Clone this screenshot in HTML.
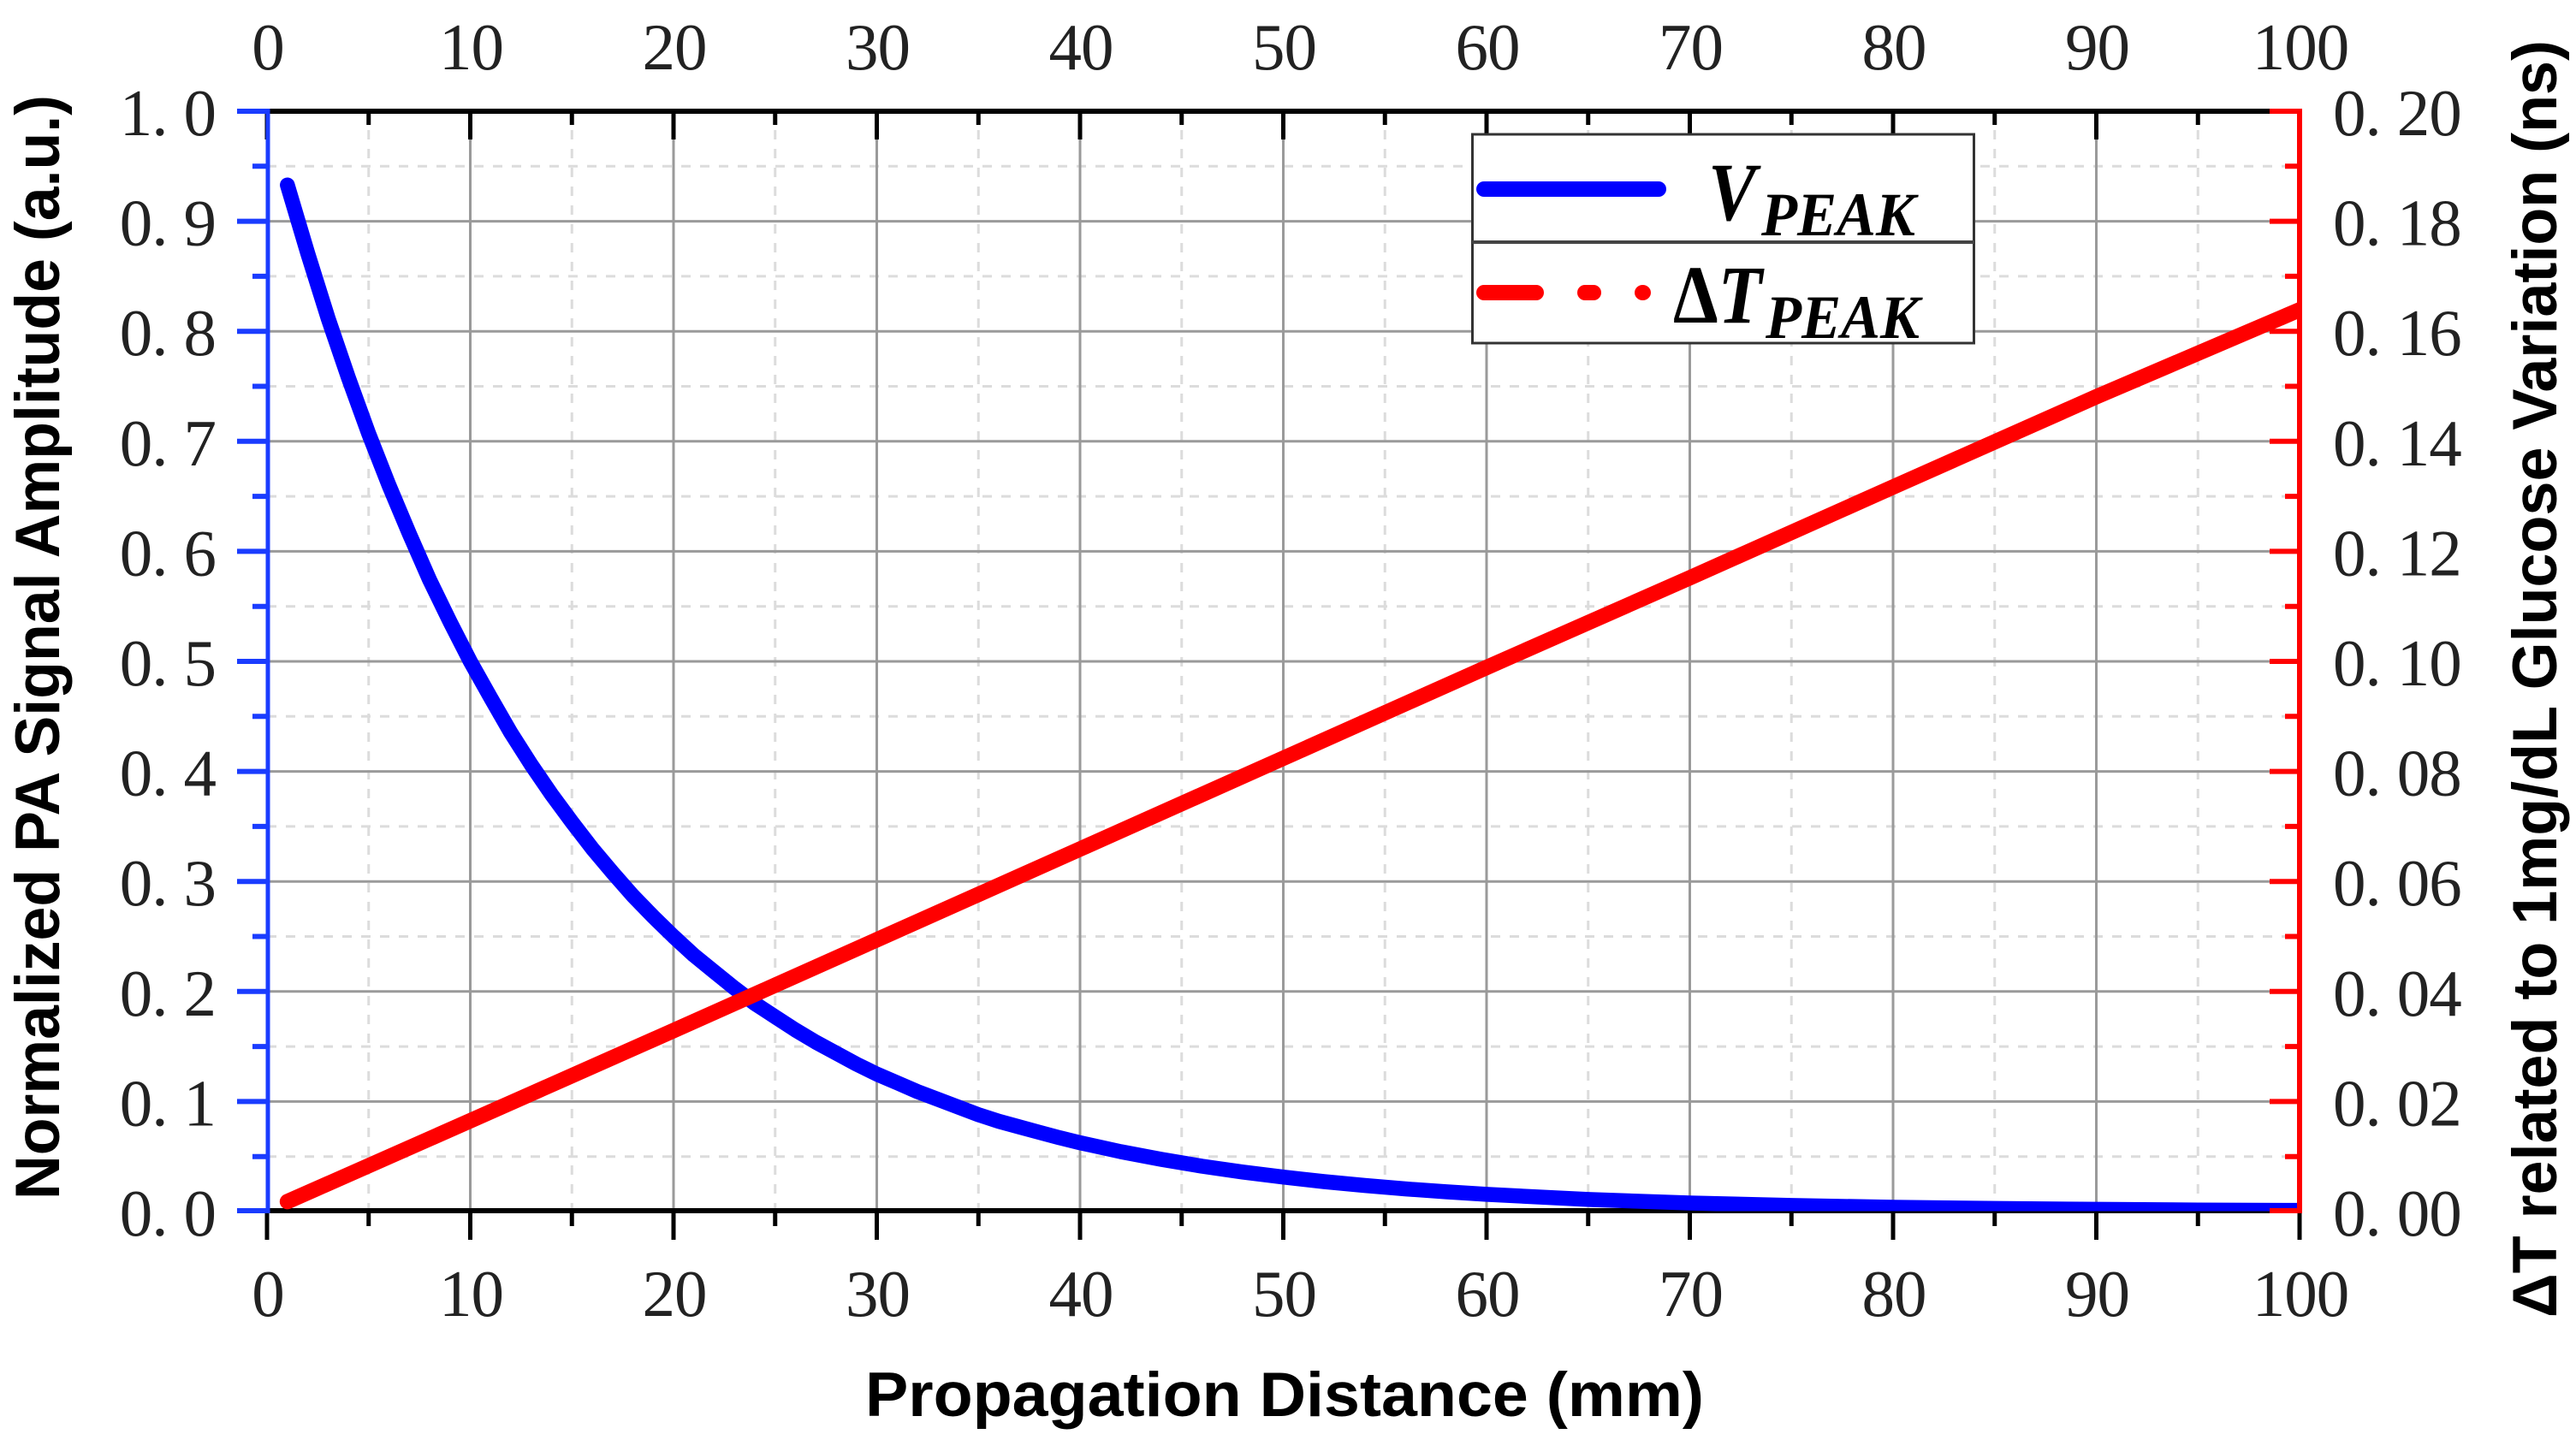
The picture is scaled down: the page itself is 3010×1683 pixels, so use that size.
<!DOCTYPE html>
<html lang="en">
<head>
<meta charset="utf-8">
<title>PA signal amplitude and delta T vs propagation distance</title>
<style>
html,body{margin:0;padding:0;background:#fff;}
svg{display:block;}
.tick-label{font-family:"Liberation Serif",serif;font-size:77px;fill:#222;letter-spacing:-1px;}
.axis-title{font-family:"Liberation Sans",sans-serif;font-weight:bold;fill:#000;font-size:73px;}
.legend-text{font-family:"Liberation Serif",serif;font-weight:bold;font-style:italic;fill:#000;}
</style>
</head>
<body>
<svg id="chart" xmlns="http://www.w3.org/2000/svg" width="3010" height="1683" viewBox="0 0 3010 1683">
  <defs>
    <clipPath id="plot-clip"><rect x="300" y="120" width="2384" height="1295.5"/></clipPath>
  </defs>
  <rect x="0" y="0" width="3010" height="1683" fill="#fff"/>
  <g id="grid"></g>
  <g id="frame"></g>
  <g id="series" clip-path="url(#plot-clip)"></g>
  <g id="yaxes"></g>
  <g id="labels"></g>

  <text class="axis-title" x="1011" y="1655" textLength="980" lengthAdjust="spacingAndGlyphs">Propagation Distance (mm)</text>
  <text class="axis-title" transform="translate(69,1402) rotate(-90)" x="0" y="0" textLength="1291" lengthAdjust="spacingAndGlyphs">Normalized PA Signal Amplitude (a.u.)</text>
  <text class="axis-title" transform="translate(2987,1540) rotate(-90)" x="0" y="0" textLength="1493" lengthAdjust="spacingAndGlyphs">ΔT related to 1mg/dL Glucose Variation (ns)</text>

  <g>
    <rect x="1720.5" y="157" width="586" height="244" fill="#fff" stroke="#333" stroke-width="3"/>
    <line x1="1720" y1="283" x2="2307" y2="283" stroke="#444" stroke-width="4"/>
    <line x1="1734" y1="221" x2="1938" y2="221" stroke="#0000ff" stroke-width="18" stroke-linecap="round"/>
    <line x1="1734" y1="342" x2="1795" y2="342" stroke="#ff0000" stroke-width="18" stroke-linecap="round"/>
    <line x1="1852" y1="342" x2="1862" y2="342" stroke="#ff0000" stroke-width="18" stroke-linecap="round"/>
    <ellipse cx="1919.5" cy="342" rx="9.5" ry="9" fill="#ff0000"/>
    <text class="legend-text" x="1996" y="257" font-size="96" textLength="56" lengthAdjust="spacingAndGlyphs">V</text>
    <text class="legend-text" x="2058" y="275" font-size="72" textLength="180" lengthAdjust="spacingAndGlyphs">PEAK</text>
    <text class="legend-text" x="1955" y="377" font-size="96" textLength="104" lengthAdjust="spacingAndGlyphs"><tspan font-style="normal">Δ</tspan>T</text>
    <text class="legend-text" x="2063" y="395" font-size="72" textLength="180" lengthAdjust="spacingAndGlyphs">PEAK</text>
  </g>
</svg>
<script>
// Chart data
const xTickLabels = ["0","10","20","30","40","50","60","70","80","90","100"];
const xMinorTicks = [5,15,25,35,45,55,65,75,85,95];
const leftTickLabels = ["0.0","0.1","0.2","0.3","0.4","0.5","0.6","0.7","0.8","0.9","1.0"];
const leftMinorTicks = [0.05,0.15,0.25,0.35,0.45,0.55,0.65,0.75,0.85,0.95];
const rightTickLabels = ["0.00","0.02","0.04","0.06","0.08","0.10","0.12","0.14","0.16","0.18","0.20"];
const vPeakDistance = [1,2,3,4,5,6,7,8,9,10,11,12,13,14,15,16,17,18,19,20,21,22,23,24,25,26,27,28,29,30,31,32,33,34,35,36,37,38,39,40,42,44,46,48,50,52,54,56,58,60,65,70,75,80,85,90,95,100];
const vPeakAmplitude = [0.933,0.871,0.812,0.758,0.707,0.660,0.616,0.574,0.536,0.500,0.467,0.435,0.406,0.379,0.354,0.330,0.308,0.287,0.268,0.250,0.233,0.218,0.203,0.189,0.177,0.165,0.154,0.144,0.134,0.125,0.117,0.109,0.102,0.095,0.088,0.082,0.077,0.072,0.067,0.0625,0.0544,0.0474,0.0412,0.0359,0.0313,0.0272,0.0237,0.0206,0.0180,0.0156,0.0110,0.0078,0.0055,0.0039,0.0028,0.0020,0.0014,0.0010];
const dtPeakDistance = [1,10,20,30,40,50,60,70,80,90,100];
const dtPeakValue = [0.0018,0.0165,0.0329,0.0494,0.0659,0.0824,0.0989,0.1152,0.1317,0.1481,0.1639];

const NS = 'http://www.w3.org/2000/svg';
const X0 = 312, X1 = 2687, YT = 130, YB = 1416;
function xAxis(v){ return X0 + (X1 - X0) * v / 100; }
function yLeft(v){ return YB - (YB - YT) * v / 1; }
function yRight(v){ return YB - (YB - YT) * v / 0.2; }
function mk(tag, parent, props){
  const el = document.createElementNS(NS, tag);
  for (const k in props) el.setAttribute(k, props[k]);
  parent.appendChild(el);
  return el;
}
function ln(parent, x1, y1, x2, y2, color, w, dash){
  const props = {x1:x1, y1:y1, x2:x2, y2:y2, stroke:color, 'stroke-width':w};
  if (dash) props['stroke-dasharray'] = dash;
  return mk('line', parent, props);
}
const grid = document.getElementById('grid');
const frame = document.getElementById('frame');
const series = document.getElementById('series');
const yaxes = document.getElementById('yaxes');
const labels = document.getElementById('labels');

// Grid
xMinorTicks.forEach(function(v){
  const g = ln(grid, xAxis(v), YT, xAxis(v), YB, '#dcdcdc', 3, '11 11');
  
  
});
leftMinorTicks.forEach(function(v){
  const g = ln(grid, X0, yLeft(v), X1, yLeft(v), '#dcdcdc', 3, '11 11');
  
  
});
xTickLabels.forEach(function(s){
  const v = parseFloat(s);
  const g = ln(grid, xAxis(v), YT, xAxis(v), YB, '#9a9a9a', 3);
  
  
});
leftTickLabels.forEach(function(s){
  const v = parseFloat(s);
  const g = ln(grid, X0, yLeft(v), X1, yLeft(v), '#9a9a9a', 3);
  
  
});

// Top and bottom axes
const topAxis = ln(frame, X0, YT, X1, YT, '#000', 6);


const bottomAxis = ln(frame, X0, YB - 1, X1, YB - 1, '#000', 6);


xTickLabels.forEach(function(s){
  const v = parseFloat(s);
  const t = ln(frame, xAxis(v), YT, xAxis(v), YT + 33, '#000', 5);
  
  
  const b = ln(frame, xAxis(v), YB - 1, xAxis(v), YB + 33, '#000', 5);
  
  
});
xMinorTicks.forEach(function(v){
  const t = ln(frame, xAxis(v), YT, xAxis(v), YT + 16, '#000', 5);
  
  
  const b = ln(frame, xAxis(v), YB - 1, xAxis(v), YB + 17, '#000', 5);
  
  
});

// Series
function seriesPath(xs, ys, yFn){
  return xs.map(function(x, i){
    return (i ? 'L' : 'M') + xAxis(x).toFixed(1) + ' ' + yFn(ys[i]).toFixed(1);
  }).join(' ');
}
const vLine = mk('path', series, {d: seriesPath(vPeakDistance, vPeakAmplitude, yLeft), fill:'none', stroke:'#0000ff', 'stroke-width':17.5, 'stroke-linecap':'round', 'stroke-linejoin':'round'});


const dtLine = mk('path', series, {d: seriesPath(dtPeakDistance, dtPeakValue, yRight), fill:'none', stroke:'#ff0000', 'stroke-width':18, 'stroke-linecap':'round', 'stroke-linejoin':'round'});



// Left and right axes
const leftAxis = ln(yaxes, X0 + 1, YT - 3, X0 + 1, YB + 2, '#1a3cff', 5);


const rightAxis = ln(yaxes, X1, YT - 3, X1, YB + 2, '#ff0000', 6);


leftTickLabels.forEach(function(s){
  const v = parseFloat(s);
  const t = ln(yaxes, X0 - 35, yLeft(v) - (v === 0 ? 1 : 0), X0 + 2, yLeft(v) - (v === 0 ? 1 : 0), '#1a3cff', 6);
  
  
});
leftMinorTicks.forEach(function(v){
  const t = ln(yaxes, X0 - 17, yLeft(v), X0 + 2, yLeft(v), '#1a3cff', 6);
  
  
});
rightTickLabels.forEach(function(s){
  const v = parseFloat(s);
  const t = ln(yaxes, X1 - 35, yRight(v) - (v === 0 ? 1 : 0), X1 + 2, yRight(v) - (v === 0 ? 1 : 0), '#ff0000', 6);
  
  
});
leftMinorTicks.forEach(function(v){
  const t = ln(yaxes, X1 - 17, yLeft(v), X1 + 2, yLeft(v), '#ff0000', 6);
  
  
});
const bottomEndTick = ln(yaxes, X1, YB + 2, X1, YB + 33, '#000', 5);



// Tick labels
xTickLabels.forEach(function(s){
  const v = parseFloat(s);
  const top = mk('text', labels, {class:'tick-label', x:xAxis(v) + 1, y:81, 'text-anchor':'middle'});
  top.textContent = s;
  
  
  const bot = mk('text', labels, {class:'tick-label', x:xAxis(v) + 1, y:1538, 'text-anchor':'middle'});
  bot.textContent = s;
  
  
});
leftTickLabels.forEach(function(s){
  const v = parseFloat(s);
  const t = mk('text', labels, {class:'tick-label', x:252, y:yLeft(v) + 28, 'text-anchor':'end', dx:'0 0 19'});
  t.textContent = s;
  
  
});
rightTickLabels.forEach(function(s){
  const v = parseFloat(s);
  const t = mk('text', labels, {class:'tick-label', x:2726, y:yRight(v) + 28, dx:'0 0 19 0'});
  t.textContent = s;
  
  
});
</script>
</body>
</html>
